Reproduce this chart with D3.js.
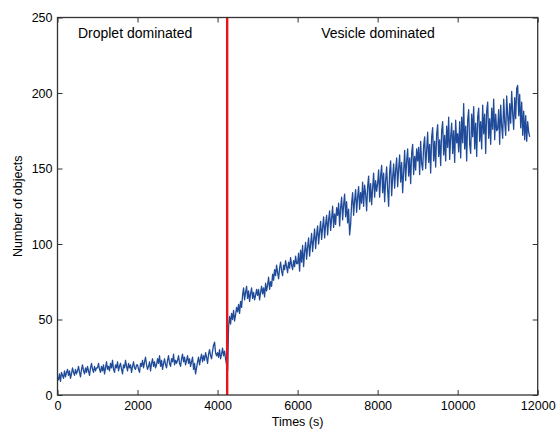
<!DOCTYPE html>
<html><head><meta charset="utf-8">
<script src="https://cdn.jsdelivr.net/npm/d3@7"></script>
<style>body{margin:0;background:#fff}svg{display:block}text{font-family:"Liberation Sans",Arial,sans-serif;fill:#000}</style>
</head><body><div id="chart"></div>
<script>
// sampling step (s) of the series below
const timeStep = 25;
// Number of objects, every 25 s from t = 0 to 11800 s
const objects = [
  12,10,14,9,15,13,11,16,12,15,17,13,16,11,14,18,15,13,17,14,
  16,19,15,12,17,20,16,14,18,15,19,16,13,18,21,17,15,19,16,18,
  18,21,17,15,19,16,20,14,18,22,17,19,16,21,18,23,17,15,20,18,
  22,16,19,21,17,14,20,18,23,19,16,21,18,20,15,19,22,18,17,20,
  20,17,15,21,19,23,18,22,25,20,17,19,22,16,21,24,19,22,18,20,
  24,21,26,19,23,17,21,24,20,18,23,26,21,19,24,22,27,20,23,21,
  23,26,21,19,24,27,22,25,20,23,26,21,24,19,22,25,17,21,14,18,
  22,25,20,24,27,22,26,23,28,25,21,27,30,26,24,29,33,35,28,26,
  28,25,30,24,27,31,26,29,24,20,16,45,52,47,54,50,56,49,53,58,
  55,60,54,62,58,66,71,63,68,72,64,69,62,67,71,64,68,63,66,70,
  66,70,63,68,72,67,71,65,74,69,73,78,70,75,72,80,76,83,79,86,
  81,77,84,88,82,79,86,83,89,85,81,88,84,91,86,83,89,85,92,87,
  87,94,82,96,88,99,85,95,101,90,98,104,92,100,107,95,103,110,97,106,
  112,100,108,115,103,111,118,104,113,119,106,116,122,109,117,125,111,120,113,124,
  119,127,112,124,131,116,126,133,118,128,114,123,106,113,127,134,119,129,136,121,
  131,138,123,134,127,141,125,139,133,122,138,145,128,140,126,137,147,131,142,135,
  140,149,131,145,152,134,147,128,142,151,136,125,148,155,132,144,153,137,149,157,
  138,150,159,141,154,134,148,162,142,155,163,145,157,140,160,166,146,158,149,163,
  155,164,146,168,153,149,165,171,150,162,174,154,166,147,171,177,155,168,151,173,
  179,158,169,152,175,181,159,172,155,178,164,184,156,171,180,160,175,154,182,167,
  173,161,181,157,184,167,193,163,178,155,182,189,166,160,186,171,191,163,180,158,
  184,190,168,181,163,192,173,186,160,188,194,170,183,166,190,176,196,169,186,175,
  176,189,166,192,178,170,196,181,172,198,185,175,193,180,201,186,176,197,183,203,
  205,185,199,177,194,172,188,169,185,168,181,174,171
];
const xTicks = [0,2000,4000,6000,8000,10000,12000];
const yTicks = [0,50,100,150,200,250];
const transitionTime = 4240;
const regionLabels = [
  {text:"Droplet dominated", t:510},
  {text:"Vesicle dominated", t:6590}
];
const xLabel = "Times (s)";
const yLabel = "Number of objects";

const W = 556, H = 429;
const m = {left:57.5, right:556-537.7, top:17.5, bottom:429-395};
const svg = d3.select("#chart").append("svg").attr("width",W).attr("height",H);
const x = d3.scaleLinear().domain([0,12000]).range([m.left, W-m.right]);
const y = d3.scaleLinear().domain([0,250]).range([H-m.bottom, m.top]);

const data = objects.map((v,i)=>({t:i*timeStep, v}));

svg.append("path").datum(data)
  .attr("fill","none").attr("stroke","#1f4b99").attr("stroke-width",1.3)
  .attr("stroke-linejoin","round")
  .attr("d", d3.line().x(d=>x(d.t)).y(d=>y(d.v)));

svg.append("line")
  .attr("x1",x(transitionTime)).attr("x2",x(transitionTime))
  .attr("y1",y(250)).attr("y2",y(0))
  .attr("stroke","#e8141c").attr("stroke-width",2.4);

const tl = 5;
const axB = d3.axisBottom(x).tickValues(xTicks).tickSize(-tl).tickPadding(6).tickFormat(d3.format("d"));
const axT = d3.axisTop(x).tickValues(xTicks).tickSize(-tl).tickFormat("");
const axL = d3.axisLeft(y).tickValues(yTicks).tickSize(-tl).tickPadding(5).tickFormat(d3.format("d"));
const axR = d3.axisRight(y).tickValues(yTicks).tickSize(-tl).tickFormat("");

function style(g){
  g.selectAll(".domain").remove();
  g.selectAll(".tick line").attr("stroke","#333").attr("stroke-width",1);
  g.selectAll(".tick text").attr("font-size",12.5).attr("fill","#111")
   .style("font-family","'Liberation Sans',Arial,sans-serif");
}
svg.append("g").attr("transform",`translate(0,${y(0)})`).call(axB).call(style);
svg.append("g").attr("transform",`translate(0,${y(250)})`).call(axT).call(style);
svg.append("g").attr("transform",`translate(${x(0)},0)`).call(axL).call(style);
svg.append("g").attr("transform",`translate(${x(12000)},0)`).call(axR).call(style);

svg.append("rect").attr("x",x(0)).attr("y",y(250))
  .attr("width",x(12000)-x(0)).attr("height",y(0)-y(250))
  .attr("fill","none").attr("stroke","#333").attr("stroke-width",1.3);

regionLabels.forEach(r=>{
  svg.append("text").attr("x",x(r.t)).attr("y",38)
    .attr("font-size",14).text(r.text);
});

svg.append("text").attr("x",(x(0)+x(12000))/2).attr("y",426)
  .attr("text-anchor","middle").attr("font-size",12.5).text(xLabel);
svg.append("text").attr("transform",`translate(22,${(y(0)+y(250))/2}) rotate(-90)`)
  .attr("text-anchor","middle").attr("font-size",12.5).text(yLabel);
</script></body></html>
